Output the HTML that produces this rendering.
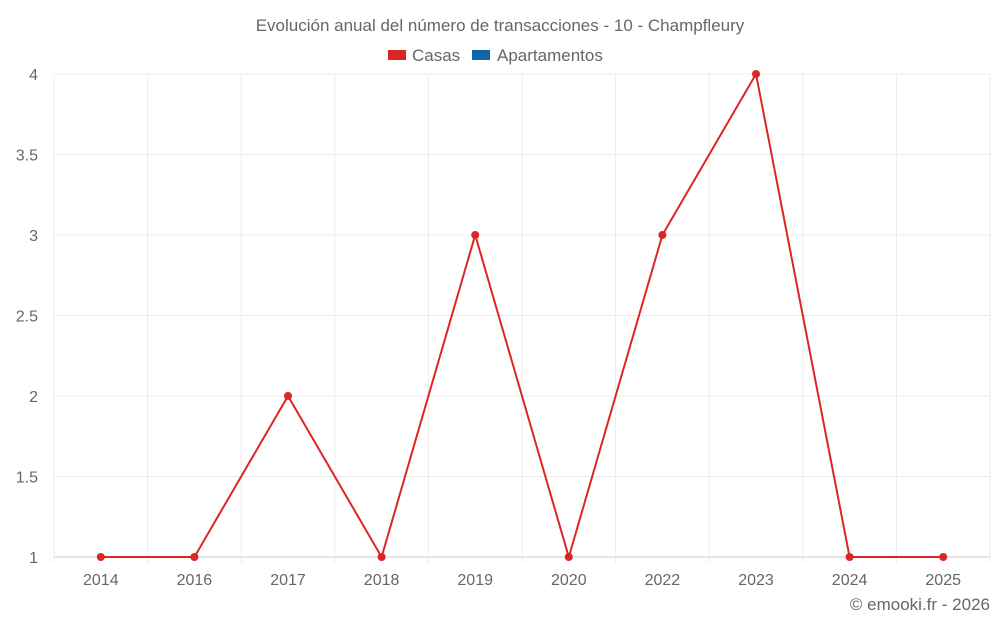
<!DOCTYPE html>
<html><head><meta charset="utf-8"><style>
body{margin:0;background:#fff;}
svg text{font-family:"Liberation Sans",sans-serif;fill:#666;}
</style></head><body>
<svg id="chart" width="1000" height="625">
<text x="500" y="31" text-anchor="middle" font-size="17">Evolución anual del número de transacciones - 10 - Champfleury</text>
<g>
<g><rect x="388" y="50" width="18" height="10" fill="#dc2626"/><text x="412" y="61" font-size="17">Casas</text></g>
<g><rect x="472" y="50" width="18" height="10" fill="#0f66a8"/><text x="497" y="61" font-size="17">Apartamentos</text></g>
</g>
<g id="grid"></g><g id="axes"></g><g id="series"></g>
<text x="990" y="610" text-anchor="end" font-size="17">© emooki.fr - 2026</text>
</svg>
<script>
const categories=["2014","2016","2017","2018","2019","2020","2022","2023","2024","2025"];
const casas=[1,1,2,1,3,1,3,4,1,1];
const yTicks=[1,1.5,2,2.5,3,3.5,4];
const L=54,R=990,T=74,B=557,yMin=1,yMax=4;
const bw=(R-L)/categories.length;
const xs=i=>L+bw*(i+0.5);
const ys=v=>B-(v-yMin)/(yMax-yMin)*(B-T);
const NS="http://www.w3.org/2000/svg";
function mk(tag,attrs,parent,txt){const e=document.createElementNS(NS,tag);for(const k in attrs)e.setAttribute(k,attrs[k]);if(txt!==undefined)e.textContent=txt;parent.appendChild(e);return e;}
const grid=document.getElementById('grid'),axes=document.getElementById('axes'),ser=document.getElementById('series');
yTicks.forEach(t=>{
 const l=mk('line',{x1:L,x2:R,y1:ys(t),y2:ys(t),stroke:t===yMin?'#ccc':'#ececec'},grid);
 
 
 const tx=mk('text',{x:38,y:ys(t)+6,'text-anchor':'end','font-size':16},axes,String(t));
 
 
});
for(let i=0;i<=categories.length;i++){
 const l=mk('line',{x1:L+bw*i,x2:L+bw*i,y1:T,y2:B+6,stroke:'#ececec'},grid);
 
 
}
categories.forEach((c,i)=>{
 const tx=mk('text',{x:xs(i),y:585,'text-anchor':'middle','font-size':16},axes,c);
 
 
});
const p=mk('polyline',{points:casas.map((v,i)=>xs(i)+','+ys(v)).join(' '),fill:'none',stroke:'#dc2626','stroke-width':2},ser);


casas.forEach((v,i)=>{
 const c=mk('circle',{cx:xs(i),cy:ys(v),r:4,fill:'#dc2626'},ser);
 
 
});
</script>
</body></html>
